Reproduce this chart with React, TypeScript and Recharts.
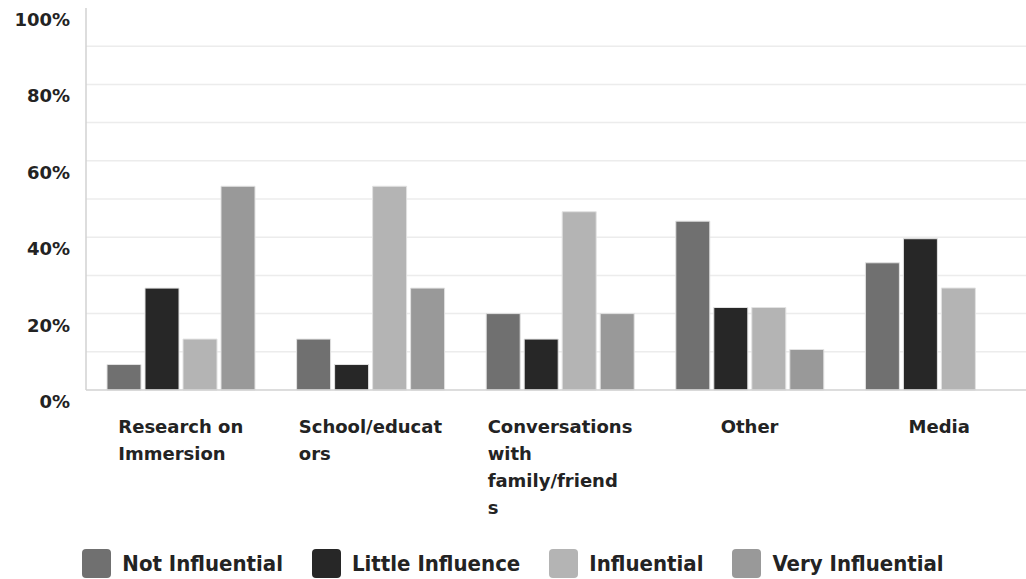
import React from 'react';
import { BarChart, Bar, XAxis, YAxis, CartesianGrid, Legend } from 'recharts';

const categories = [
  'Research on Immersion',
  'School/educators',
  'Conversations with family/friends',
  'Other',
  'Media',
];
const notInfluential = [6.67, 13.33, 20, 44.2, 33.3];
const littleInfluence = [26.67, 6.67, 13.33, 21.6, 39.6];
const influential = [13.33, 53.33, 46.67, 21.6, 26.7];
const veryInfluential = [53.33, 26.67, 20, 10.6, 0];

const yTicks = [0, 20, 40, 60, 80, 100];
const gridValues = [10, 20, 30, 40, 50, 60, 70, 80, 90];

const seriesNames = ['Not Influential', 'Little Influence', 'Influential', 'Very Influential'];
const seriesKeys = ['ni', 'li', 'inf', 'vi'];
const seriesColors = ['#707070', '#272727', '#b4b4b4', '#999999'];

const data = categories.map((name, i) => ({
  name,
  ni: notInfluential[i],
  li: littleInfluence[i],
  inf: influential[i],
  vi: veryInfluential[i],
}));

const axisFont = "'DejaVu Sans', sans-serif";
const textColor = '#232323';

// wrap at 13 characters per line, breaking long words like the original
function wrapLabel(label: string, max = 13): string[] {
  const lines: string[] = [];
  let cur = '';
  for (const word of label.split(' ')) {
    let w = word;
    const candidate = cur ? cur + ' ' + w : w;
    if (candidate.length <= max) {
      cur = candidate;
      continue;
    }
    if (cur) lines.push(cur);
    cur = '';
    while (w.length > max) {
      lines.push(w.slice(0, max));
      w = w.slice(max);
    }
    cur = w;
  }
  if (cur) lines.push(cur);
  return lines;
}

let ctx: CanvasRenderingContext2D | null = null;
function textWidth(s: string): number {
  if (!ctx) ctx = document.createElement('canvas').getContext('2d');
  if (!ctx) return s.length * 10;
  ctx.font = `bold 18px ${axisFont}`;
  return ctx.measureText(s).width;
}

const XTick = (props: any) => {
  const { x, y, payload } = props;
  const lines = wrapLabel(payload.value);
  const w = Math.max(...lines.map(textWidth));
  return (
    <text x={x - w / 2} y={y + 43} fill={textColor} fontFamily={axisFont} fontWeight="bold" fontSize={18} textAnchor="start">
      {lines.map((l, i) => (
        <tspan key={i} x={x - w / 2} dy={i === 0 ? 0 : 27}>{l}</tspan>
      ))}
    </text>
  );
};

const YTick = (props: any) => {
  const { x, y, payload } = props;
  return (
    <text x={x} y={y + 18} fill={textColor} fontFamily={axisFont} fontWeight="bold" fontSize={18} textAnchor="end">
      {payload.value}%
    </text>
  );
};

const LegendContent = () => (
  <div style={{ display: 'flex', justifyContent: 'center', alignItems: 'center', height: 44, paddingTop: 13, boxSizing: 'border-box' }}>
    {seriesNames.map((n, i) => (
      <div key={n} style={{ display: 'flex', alignItems: 'center', marginRight: i < seriesNames.length - 1 ? 29 : 0 }}>
        <div style={{ width: 29, height: 29, borderRadius: 4, background: seriesColors[i] }} />
        <span style={{
          marginLeft: 11,
          fontFamily: "'DejaVu Sans Condensed', 'DejaVu Sans', sans-serif",
          fontStretch: 'condensed',
          fontWeight: 'bold',
          fontSize: 22,
          color: textColor,
          lineHeight: '29px',
        }}>{n}</span>
      </div>
    ))}
  </div>
);

export default function App() {
  return (
    <div style={{ position: 'fixed', left: 0, top: 0, width: 1026, height: 579, overflow: 'hidden', background: '#fff' }}>
      <BarChart width={1034} height={579} data={data} margin={{ top: 8, right: 0, left: 0, bottom: 0 }} barSize={34} barGap={4}>
        <CartesianGrid horizontal vertical={false} horizontalValues={gridValues} stroke="#ececec" strokeWidth={1.5} />
        <YAxis
          width={86}
          domain={[0, 100]}
          ticks={yTicks}
          interval={0}
          tick={<YTick />}
          tickLine={false}
          tickSize={0}
          tickMargin={16}
          axisLine={{ stroke: '#d2d2d2', strokeWidth: 1.5 }}
        />
        <XAxis
          dataKey="name"
          height={145}
          interval={0}
          tick={<XTick />}
          tickLine={false}
          tickSize={0}
          tickMargin={0}
          axisLine={{ stroke: '#d2d2d2', strokeWidth: 1.5 }}
        />
        <Legend verticalAlign="bottom" content={<LegendContent />} wrapperStyle={{ left: 0, width: 1026, bottom: 0 }} />
        {seriesKeys.map((k, i) => (
          <Bar key={k} dataKey={k} name={seriesNames[i]} fill={seriesColors[i]} stroke="#e2e2e2" strokeWidth={1} isAnimationActive={false} />
        ))}
      </BarChart>
    </div>
  );
}
